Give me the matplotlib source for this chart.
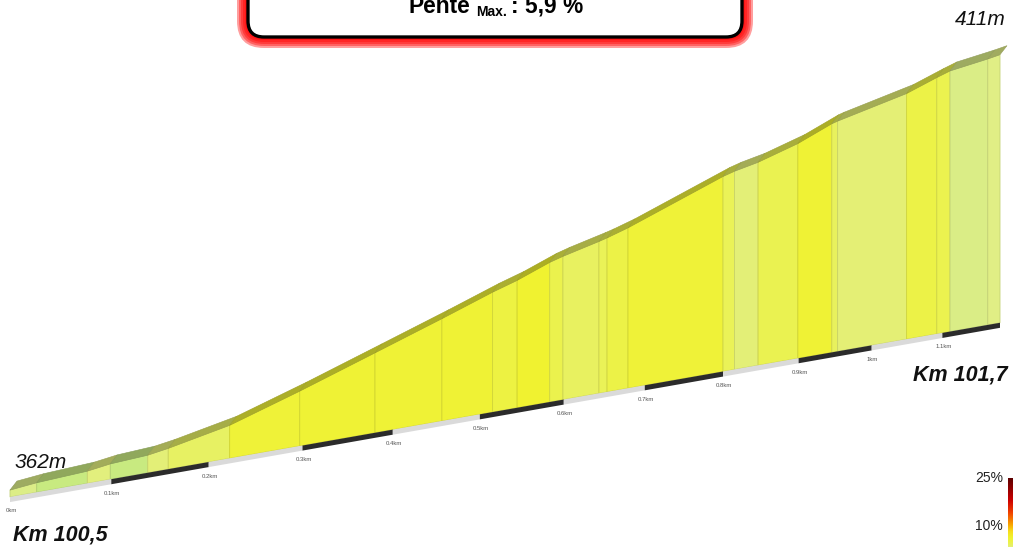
import numpy as np
import matplotlib
matplotlib.use('Agg')
import matplotlib.pyplot as plt
from matplotlib.colors import LinearSegmentedColormap, to_rgb
from matplotlib.patches import Polygon, FancyBboxPatch
from matplotlib.transforms import Affine2D, IdentityTransform

plt.rcParams['font.family'] = ['Liberation Sans', 'DejaVu Sans']

# ---------------- donnees du profil ----------------
dist_km = [0.000, 0.026, 0.076, 0.099, 0.137, 0.158, 0.222, 0.297, 0.380, 0.456,
           0.515, 0.544, 0.583, 0.599, 0.643, 0.653, 0.679, 0.800, 0.815, 0.846,
           0.899, 0.945, 0.953, 1.049, 1.092, 1.111, 1.166, 1.184]
alt_m = [362.0, 362.5, 363.0, 363.6, 364.0, 364.6, 366.9, 371.0, 375.7, 379.9,
         383.2, 384.6, 386.9, 387.6, 389.2, 389.6, 390.8, 397.3, 397.9, 398.8,
         401.0, 403.6, 403.9, 406.8, 408.8, 409.6, 410.6, 411.0]

tick_km = [0, 0.1, 0.2, 0.3, 0.4, 0.5, 0.6, 0.7, 0.8, 0.9, 1.0, 1.1]
tick_labels = ['0km', '0.1km', '0.2km', '0.3km', '0.4km', '0.5km', '0.6km',
               '0.7km', '0.8km', '0.9km', '1km', '1.1km']

km_depart = '100,5'
km_arrivee = '101,7'
pente_max = '5,9'
legend_pct = [25, 10]

# ---------------- mise en page / perspective ----------------
W, H = 1013, 547
B = 0.199          # compression de perspective
alt_base = 360.7   # altitude du socle
px_per_m = 5.33
skew = 0.176       # pente ecran de la ligne de base
depth = (7, 9)     # epaisseur 3D (pixels)

# palette pente -> couleur
cmap = LinearSegmentedColormap.from_list('pente', [
    (0.0, '#c0e77a'), (1.0/25, '#c8ea80'), (2.0/25, '#dfee88'),
    (3.0/25, '#e4ef74'), (4.0/25, '#eaf254'), (5.0/25, '#eef23e'),
    (6.0/25, '#f0f22e'), (8.0/25, '#f7dc1c'), (10.0/25, '#f9a800'),
    (14.0/25, '#f04000'), (18.0/25, '#cc0000'), (1.0, '#5e0000')])


def fwd(d):
    d = np.asarray(d, float)
    return d / (1 + B * d)


def inv(u):
    u = np.asarray(u, float)
    return u / (1 - B * u)


fig = plt.figure(figsize=(W / 100, H / 100), dpi=100)
ax = fig.add_axes([0, 0, 1, 1])
ax.set_xscale('function', functions=(fwd, inv))
ppu = (1000 - 10) / fwd(dist_km[-1])
ax.set_xlim(inv(-10 / ppu), inv((W - 10) / ppu))
ax.set_ylim(alt_base - 50 / px_per_m, alt_base + (H - 50) / px_per_m)
ax.axis('off')

tr = ax.transData + Affine2D(np.array([[1, 0, 0], [skew, 1, -skew * 10], [0, 0, 1]]))

d = np.array(dist_km)
h = np.array(alt_m)
pente = np.diff(h) / (np.diff(d) * 1000) * 100
cols = [cmap(p / 25) for p in pente]


def darker(c, f):
    r, g, b = to_rgb(c)
    return (r * f, g * f, b * f)


# cap gauche
p0 = tr.transform([(d[0], alt_base), (d[0], h[0])])
cap = np.vstack([p0, p0[::-1] + depth])
ax.add_patch(Polygon(cap, closed=True, transform=IdentityTransform(),
                     facecolor='#dcdcdc', edgecolor='none', zorder=1))

# face avant
for i in range(len(d) - 1):
    pts = [(d[i], alt_base), (d[i], h[i]), (d[i + 1], h[i + 1]), (d[i + 1], alt_base)]
    ax.add_patch(Polygon(pts, closed=True, transform=tr, facecolor=cols[i],
                         edgecolor=darker(cols[i], 0.88), linewidth=0.6, zorder=2))

# dessus (bande olive)
top = tr.transform(np.column_stack([d, h]))
for i in range(len(d) - 1):
    a, b = top[i], top[i + 1]
    quad = np.array([a, b, b + depth, a + depth])
    ax.add_patch(Polygon(quad, closed=True, transform=IdentityTransform(),
                         facecolor=darker(cols[i], 0.72),
                         edgecolor=darker(cols[i], 0.66), linewidth=0.4, zorder=3))

# echelle km noire / grise
bounds = tick_km + [dist_km[-1]]
for j in range(len(tick_km)):
    a, b = bounds[j], bounds[j + 1]
    pts = [(a, alt_base), (b, alt_base), (b, alt_base - 0.95), (a, alt_base - 0.95)]
    ax.add_patch(Polygon(pts, closed=True, transform=tr,
                         facecolor='#2b2b2b' if j % 2 else '#dadada',
                         edgecolor='none', zorder=2))

for t, lab in zip(tick_km, tick_labels):
    ax.annotate(lab, xy=(t, alt_base), xycoords=tr, xytext=(1, -14),
                textcoords='offset pixels', ha='center', va='center',
                fontsize=4.3, color='#555555')

# altitudes et km
ax.annotate(f'{alt_m[0]:.0f}m', xy=(d[0], h[0]), xycoords=tr, xytext=(5, 28),
            textcoords='offset pixels', ha='left', va='center',
            fontsize=15, style='italic', color='#111111')
ax.annotate(f'{alt_m[-1]:.0f}m', xy=(d[-1], h[-1]), xycoords=tr, xytext=(6, 35),
            textcoords='offset pixels', ha='right', va='center',
            fontsize=15, style='italic', color='#111111')
ax.annotate('Km ' + km_depart, xy=(d[0], alt_base), xycoords=tr, xytext=(3, -38),
            textcoords='offset pixels', ha='left', va='center',
            fontsize=15.5, style='italic', fontweight='bold', color='#111111')
ax.annotate('Km ' + km_arrivee, xy=(d[-1], alt_base), xycoords=tr, xytext=(8, -52),
            textcoords='offset pixels', ha='right', va='center',
            fontsize=15.5, style='italic', fontweight='bold', color='#111111')

# cadre du titre avec halo rouge
bx0, bx1, by0 = 248, 742, H - 37
for g in [11, 9, 7, 5, 3, 1]:
    fig.add_artist(FancyBboxPatch((bx0 - g, by0 - g), bx1 - bx0 + 2 * g, 80,
                                  boxstyle=f'round,pad=0,rounding_size={16 + g}',
                                  transform=IdentityTransform(), facecolor='#ff0000',
                                  edgecolor='none', alpha=0.38, zorder=4))
fig.add_artist(FancyBboxPatch((bx0, by0), bx1 - bx0, 80,
                              boxstyle='round,pad=0,rounding_size=16',
                              transform=IdentityTransform(), facecolor='white',
                              edgecolor='black', linewidth=2.4, zorder=5))

fig.text(470 / W, 1 - 13 / H, 'Pente', ha='right', va='baseline',
         fontsize=16.4, fontweight='bold', zorder=6)
fig.text(476 / W, 1 - 15.5 / H, 'Max.', ha='left', va='baseline',
         fontsize=10, fontweight='bold', zorder=6)
fig.text(511 / W, 1 - 13 / H, f': {pente_max} %', ha='left', va='baseline',
         fontsize=16.4, fontweight='bold', zorder=6)

# barre de couleurs (coupee au bord)
cax = fig.add_axes([1008 / W, 0, 8 / W, 69 / H])
grad = np.linspace(25, 3, 100).reshape(-1, 1)
cax.imshow(grad, aspect='auto', cmap=cmap, vmin=0, vmax=25)
cax.axis('off')
for p, ypx in zip(legend_pct, [478, 526]):
    fig.text(1003 / W, 1 - ypx / H, f'{p}%', ha='right', va='center',
             fontsize=10, color='#222222',
             family=['Liberation Sans Narrow', 'Liberation Sans'])

fig.savefig('out.png', dpi=100)
